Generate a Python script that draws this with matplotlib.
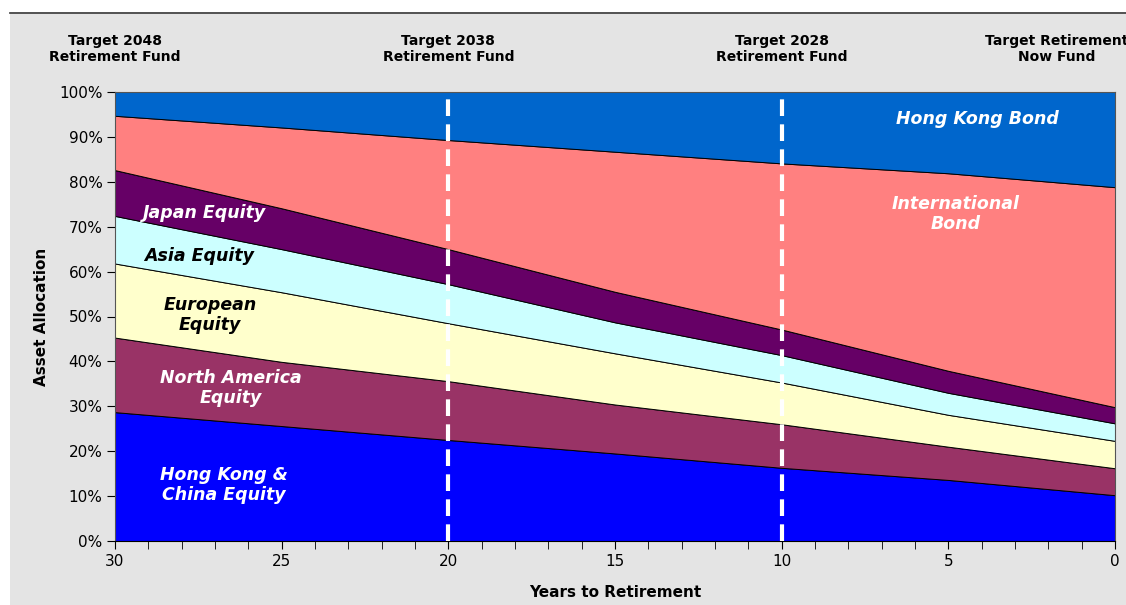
# glide path chart: asset allocation by years to retirement
import matplotlib.pyplot as plt
from matplotlib.patches import Rectangle

years = [30, 25, 20, 15, 10, 5, 0]

# allocation per asset class, percent
hk_china_equity = [28.7, 25.6, 22.5, 19.5, 16.3, 13.6, 10.2]
north_america_equity = [16.6, 14.3, 13.1, 10.9, 9.7, 7.4, 6.0]
european_equity = [16.5, 15.5, 12.9, 11.4, 9.3, 7.1, 6.1]
asia_equity = [10.6, 9.6, 8.7, 6.9, 6.1, 4.9, 3.9]
japan_equity = [10.2, 9.1, 7.8, 6.8, 5.7, 4.9, 3.6]
international_bond = [12.1, 18.0, 24.3, 31.2, 37.0, 44.0, 49.0]
hk_bond = [5.3, 7.9, 10.7, 13.3, 15.9, 18.1, 21.2]

colors = ["#0000ff", "#993366", "#ffffcc", "#ccffff", "#660066", "#ff8080", "#0066cc"]

fund_years = [30, 20, 10, 0]
fund_names = ["Target 2048\nRetirement Fund", "Target 2038\nRetirement Fund",
              "Target 2028\nRetirement Fund", "Target Retirement\nNow Fund"]

fig = plt.figure(figsize=(11.26, 6.05), dpi=100)
fig.patch.set_facecolor("white")
# gray chart panel with a dark top rule
fig.patches.append(Rectangle((10 / 1126, 0), 1, 1 - 14 / 605, transform=fig.transFigure,
                             facecolor="#e4e4e4", edgecolor="none", zorder=-1))
fig.add_artist(plt.Line2D([10 / 1126, 1], [1 - 13 / 605] * 2, transform=fig.transFigure,
                          color="#333333", lw=1.2))

ax = fig.add_axes([115 / 1126, 64 / 605, 1000 / 1126, 449 / 605])
ax.stackplot(years, hk_china_equity, north_america_equity, european_equity, asia_equity,
             japan_equity, international_bond, hk_bond, colors=colors,
             edgecolor="black", linewidth=0.7)

for fy in [20, 10]:
    ax.axvline(fy, color="white", lw=3, ls=(0, (4, 2)), zorder=5)

ax.set_xlim(30, 0)
ax.set_ylim(0, 100)
ax.set_xticks(range(30, -1, -5))
ax.set_xticks(range(30, -1, -1), minor=True)
ax.set_yticks(range(0, 101, 10))
ax.set_yticklabels([f"{v}%" for v in range(0, 101, 10)])
ax.tick_params(axis="both", labelsize=11, colors="black", direction="out", length=6, pad=3)
ax.tick_params(axis="x", which="minor", length=6)
for s in ax.spines.values():
    s.set_color("#555555")
ax.spines["bottom"].set_color("black")

ax.set_ylabel("Asset Allocation", fontsize=11, fontweight="bold", labelpad=7)
ax.set_xlabel("Years to Retirement", fontsize=11, fontweight="bold", labelpad=12)

lab = dict(fontsize=12.5, fontweight="bold", style="italic", ha="center", va="center",
           linespacing=1.1)
ax.text(27.3, 73.1, "Japan Equity", color="white", **lab)
ax.text(27.48, 63.5, "Asia Equity", color="black", **lab)
ax.text(27.15, 50.3, "European\nEquity", color="black", **lab)
ax.text(26.52, 34.1, "North America\nEquity", color="white", **lab)
ax.text(26.73, 12.5, "Hong Kong &\nChina Equity", color="white", **lab)
ax.text(4.14, 94.0, "Hong Kong Bond", color="white", **lab)
ax.text(4.77, 72.8, "International\nBond", color="white", **lab)

for fy, name in zip(fund_years, fund_names):
    ax.text(fy if fy else 1.75, 109.6, name, ha="center", va="center", fontsize=10,
            fontweight="bold", linespacing=1.25, clip_on=False)

fig.savefig("out.png", dpi=100)
